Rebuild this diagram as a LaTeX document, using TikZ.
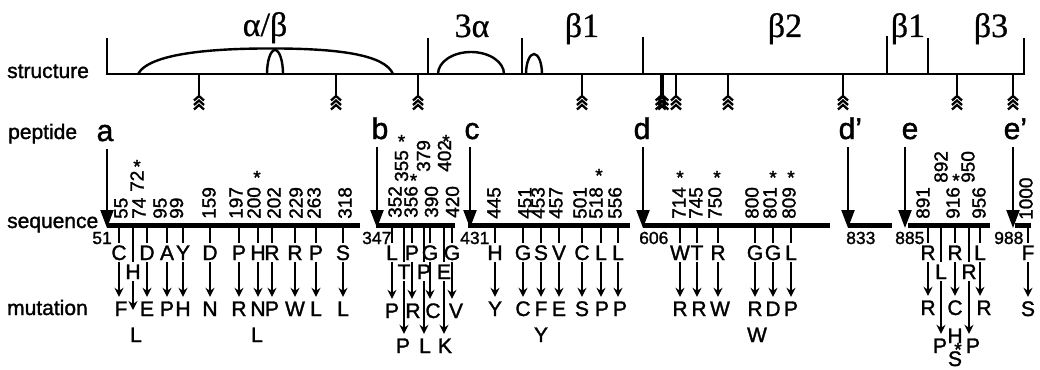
\documentclass[tikz,border=0pt]{standalone}
\usepackage{fontspec}
\setmainfont[FakeBold=1.4]{Liberation Sans}
\newfontfamily\grk[FakeBold=0.6]{Liberation Serif}
\usetikzlibrary{arrows.meta}
\newcommand\mlet[4]{\node[mutl] (#1) at (#2,#3) {#4};}
\newcommand\rotn[4]{\node[rnum] (#1) at (#2,#3) {#4};}
\newcommand\astk[3]{\node[astl] (#1) at (#2,#3+11) {*};}
\newcommand\marr[2]{\draw[ma] (#1.south) -- (#1.south |- #2.north);}
\newcommand\tck[2]{\draw[tk] (#1.north) -- (#1.north |- #2);}
\begin{document}
\begin{tikzpicture}[x=1pt,y=-1pt,
  lab/.style={font=\fontsize{21}{24}\selectfont, anchor=base west, inner sep=0pt},
  grkl/.style={font=\grk\fontsize{34}{36}\selectfont, anchor=base, inner sep=0pt},
  pepl/.style={font=\fontsize{30}{32}\selectfont, anchor=base, inner sep=3pt, text depth=0pt},
  rnum/.style={font=\fontsize{19}{20}\selectfont, rotate=90, anchor=west, inner sep=0pt},
  snum/.style={font=\fontsize{17.5}{20}\selectfont, anchor=base west, inner sep=0pt},
  astl/.style={font=\fontsize{19}{20}\selectfont, anchor=base, inner sep=0pt},
  mutl/.style={font=\fontsize{21}{24}\selectfont, anchor=base, inner sep=2pt, text height=15pt, text depth=0pt},
  sline/.style={line width=2.4pt},
  seqbar/.style={line width=5.5pt},
  tk/.style={line width=1.5pt},
  ma/.style={line width=1.5pt, -{Stealth[length=9pt,width=9pt,inset=3pt]}, shorten >=2pt},
  pa/.style={line width=2.2pt, -{Triangle[length=18pt,width=13pt]}, shorten <=5pt, shorten >=-2.5pt},
  chev/.pic={\draw[line width=1.7pt] (0,0) -- (0,23);
    \foreach \k in {0,1,2} \draw[line width=2.3pt] (-5,26.5+\k*4.5) -- (0,22+\k*4.5) -- (5,26.5+\k*4.5);}
]
\useasboundingbox (0,0) rectangle (1040,369);

% ---------- row labels
\node[lab] (lstruct) at (7,78) {structure};
\node[lab] (lpep) at (8,139) {peptide};
\node[lab] (lseq) at (7,228) {sequence};
\node[lab] (lmut) at (7,315) {mutation};

% ---------- structure line
\coordinate (st0) at (107,74); \coordinate (st1) at (1024,74);
\draw[sline] (107,38) -- (st0) -- (st1) -- (1024,38);
\foreach \x/\t in {428/38,522/38,643/37,887/36,928/38} \draw[sline] (\x,\t) -- (\x,74);
\draw[sline] (138,74) .. controls (150,52) and (220,48) .. (280,48.5) .. controls (340,49) and (385,55) .. (393,74);
\draw[sline] (267,74) .. controls (267,60.7) and (270.6,50) .. (275,50) .. controls (279.4,50) and (283,60.7) .. (283,74);
\draw[sline] (438,74) .. controls (438,61.85) and (452.8,52) .. (471,52) .. controls (489.2,52) and (504,61.85) .. (504,74);
\draw[sline] (526,74) .. controls (526,63) and (529.6,54) .. (534,54) .. controls (538.4,54) and (542,63) .. (542,74);
\node[grkl] (g1) at (265,36) {α/β};
\node[grkl] (g2) at (472,37) {3α};
\node[grkl] (g3) at (582,37) {β1};
\node[grkl] (g4) at (785,37) {β2};
\node[grkl] (g5) at (908,37) {β1};
\node[grkl] (g6) at (991,37) {β3};
\foreach \x in {199,336,418,582,660.7,663.3,676,728,843,957,1013} \pic at (\x,74) {chev};

% ---------- sequence bars
\coordinate (b1s) at (107,225.5); \coordinate (b1e) at (360,225.5);
\coordinate (b2s) at (376,225.5); \coordinate (b2e) at (455,225.5);
\coordinate (b3s) at (468,225.5); \coordinate (b3e) at (630,225.5);
\coordinate (b4s) at (643,225.5); \coordinate (b4e) at (830,225.5);
\coordinate (b5s) at (848,225.5); \coordinate (b5e) at (892,225.5);
\coordinate (b6s) at (908,225.5); \coordinate (b6e) at (990,225.5);
\coordinate (b7s) at (1015,225.5); \coordinate (b7e) at (1031,225.5);
\foreach \i in {1,...,7} \draw[seqbar] (b\i s) -- (b\i e);

% ---------- peptides
\node[pepl] (pepA) at (105,141) {a};
\node[pepl] (pepB) at (380,139) {b};
\node[pepl] (pepC) at (472,139) {c};
\node[pepl] (pepD) at (642,139) {d};
\node[pepl] (pepDp) at (847,139) {d\rlap{’}};
\node[pepl] (pepE) at (910,139) {e};
\node[pepl] (pepEp) at (1012,139) {e\rlap{’}};
\coordinate (tA) at (107,225.5); \coordinate (tB) at (377,225.5);
\coordinate (tC) at (470,225.5); \coordinate (tD) at (643,225.5);
\coordinate (tDp) at (848,225.5); \coordinate (tE) at (905,225.5);
\coordinate (tEp) at (1013,225.5);
\foreach \p in {A,B,C,D,Dp,E,Ep} \draw[pa] (pep\p.south -| t\p) -- (t\p);

% ---------- numbers at bar starts
\node[snum, anchor=base east] (n51) at (112,244) {51};
\node[snum] (n347) at (362,244) {347};
\node[snum] (n431) at (460,244) {431};
\node[snum] (n606) at (639,244) {606};
\node[snum] (n833) at (846,244) {833};
\node[snum] (n885) at (895,244) {885};
\node[snum] (n988) at (994,244) {988};

% ---------- rotated residue numbers
\rotn{r55}{121}{219}{55} \rotn{r72}{137}{192}{72} \rotn{r74}{139}{219}{74}
\rotn{r95}{160}{219}{95} \rotn{r99}{176.5}{219}{99} \rotn{r159}{209}{219}{159}
\rotn{r197}{236}{219}{197} \rotn{r200}{254}{219}{200} \rotn{r202}{274}{219}{202}
\rotn{r229}{296}{219}{229} \rotn{r263}{314}{219}{263} \rotn{r318}{345}{219}{318}
\rotn{r352}{395}{218}{352} \rotn{r355}{401.5}{182}{355} \rotn{r356}{411}{218}{356}
\rotn{r379}{423.5}{172}{379} \rotn{r390}{431.5}{218}{390} \rotn{r402}{444.5}{172}{402}
\rotn{r420}{452.5}{218}{420}
\rotn{r445}{494}{219}{445} \rotn{r451}{525}{219}{451} \rotn{r453}{538}{219}{453}
\rotn{r457}{556}{219}{457} \rotn{r501}{580}{219}{501} \rotn{r518}{596}{219}{518}
\rotn{r556}{615}{219}{556}
\rotn{r714}{679}{219}{714} \rotn{r745}{696}{219}{745} \rotn{r750}{715}{219}{750}
\rotn{r800}{752}{219}{800} \rotn{r801}{770}{219}{801} \rotn{r809}{789}{219}{809}
\rotn{r891}{923}{219}{891} \rotn{r892}{941}{183}{892} \rotn{r916}{953}{219}{916}
\rotn{r950}{968}{183}{950} \rotn{r956}{979}{219}{956}
\rotn{r1000}{1026}{220}{1000}
% asterisks
\astk{s72}{137}{162} \astk{s200}{257}{173} \astk{s355}{401.5}{137}
\astk{s356}{413.5}{176} \astk{s402}{446}{137} \astk{s518}{599}{171}
\astk{s714}{680}{173} \astk{s750}{717}{173} \astk{s801}{773}{173}
\astk{s809}{791}{173} \astk{s916}{956}{176}

% ---------- mutations, bar 1
\mlet{a1}{119}{260}{C} \mlet{a2}{147}{260}{D} \mlet{a3}{167}{260}{A}
\mlet{a4}{183}{260}{Y} \mlet{a5}{210}{260}{D} \mlet{a6}{239}{260}{P}
\mlet{a7}{258}{260}{H} \mlet{a8}{272}{260}{R} \mlet{a9}{295}{260}{R}
\mlet{a10}{316}{260}{P} \mlet{a11}{343}{260}{S}
\mlet{ah}{133}{279}{H}
\mlet{am1}{121}{316}{F} \mlet{am2}{147}{316}{E} \mlet{am3}{167}{316}{P}
\mlet{am4}{183}{316}{H} \mlet{am5}{210}{316}{N} \mlet{am6}{239}{316}{R}
\mlet{am7}{258}{316}{N} \mlet{am8}{272}{316}{P} \mlet{am9}{295}{316}{W}
\mlet{am10}{316}{316}{L} \mlet{am11}{343}{316}{L}
\mlet{al1}{136}{342}{L} \mlet{al2}{257}{342}{L}
\foreach \i in {1,...,11} {\tck{a\i}{b1s} \marr{a\i}{am\i}}
\tck{ah}{b1s}
\coordinate (ahend) at (133,312);
\draw[ma] (ah.south) -- (ahend);

% ---------- bar 2
\mlet{bb1}{392}{260}{L} \mlet{bb3}{412}{260}{P} \mlet{bb5}{430}{260}{G} \mlet{bb7}{452}{260}{G}
\mlet{bb2}{404}{279}{T} \mlet{bb4}{424}{279}{P} \mlet{bb6}{444}{279}{E}
\mlet{bm1}{392}{318}{P} \mlet{bm3}{413}{318}{R} \mlet{bm5}{433}{318}{C} \mlet{bm7}{456}{318}{V}
\mlet{bm2}{403}{353}{P} \mlet{bm4}{425}{353}{L} \mlet{bm6}{445}{353}{K}
\foreach \i in {1,...,7} {\tck{bb\i}{b2s} \marr{bb\i}{bm\i}}

% ---------- bar 3
\mlet{c1}{495}{260}{H} \mlet{c2}{523}{260}{G} \mlet{c3}{541}{260}{S} \mlet{c4}{559}{260}{V}
\mlet{c5}{582}{260}{C} \mlet{c6}{601}{260}{L} \mlet{c7}{618}{260}{L}
\mlet{cm1}{495}{316}{Y} \mlet{cm2}{523}{316}{C} \mlet{cm3}{541}{316}{F} \mlet{cm4}{559}{316}{E}
\mlet{cm5}{582}{316}{S} \mlet{cm6}{602}{316}{P} \mlet{cm7}{620}{316}{P}
\mlet{cl3}{541}{342}{Y}
\foreach \i in {1,...,7} {\tck{c\i}{b3s} \marr{c\i}{cm\i}}

% ---------- bar 4
\mlet{d1}{680}{260}{W} \mlet{d2}{697}{260}{T} \mlet{d3}{718}{260}{R}
\mlet{d4}{755}{260}{G} \mlet{d5}{773}{260}{G} \mlet{d6}{791}{260}{L}
\mlet{dm1}{680}{316}{R} \mlet{dm2}{699}{316}{R} \mlet{dm3}{720}{316}{W}
\mlet{dm4}{755}{316}{R} \mlet{dm5}{773}{316}{D} \mlet{dm6}{791}{316}{P}
\mlet{dl4}{757}{342}{W}
\foreach \i in {1,...,6} {\tck{d\i}{b4s} \marr{d\i}{dm\i}}

% ---------- bar 6
\mlet{e1}{928}{260}{R} \mlet{e3}{955}{260}{R} \mlet{e5}{980}{260}{L}
\mlet{e2}{941}{279}{L} \mlet{e4}{969}{279}{R}
\mlet{em1}{928}{315}{R} \mlet{em3}{955}{315}{C} \mlet{em5}{984}{315}{R}
\mlet{em2}{940}{353}{P} \mlet{em4}{973}{353}{P}
\mlet{eh3}{955}{343}{H} \mlet{es3}{955}{366}{S}
\astk{sS}{958}{345}
\foreach \i in {1,...,5} {\tck{e\i}{b6s} \marr{e\i}{em\i}}

% ---------- bar 7
\mlet{f1}{1028}{260}{F} \mlet{fm1}{1028}{316}{S}
\tck{f1}{b7s} \marr{f1}{fm1}
\end{tikzpicture}
\end{document}
